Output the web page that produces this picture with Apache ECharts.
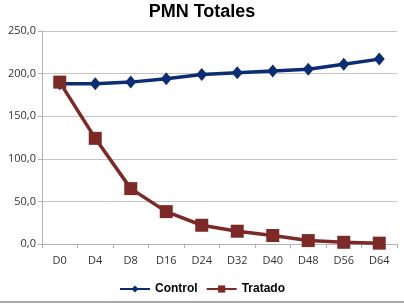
<!DOCTYPE html>
<html>
<head>
<meta charset="utf-8">
<script src="https://cdn.jsdelivr.net/npm/echarts@6/dist/echarts.min.js"></script>
<style>
  html, body { margin: 0; padding: 0; background: #fff; }
  #chart { width: 404px; height: 308px; }
</style>
</head>
<body>
<div id="chart"></div>
<script>
var days = ['D0', 'D4', 'D8', 'D16', 'D24', 'D32', 'D40', 'D48', 'D56', 'D64']
var control = [188, 188, 190, 194, 199, 201, 203, 205, 211, 217]
var tratado = [190, 124, 65, 38, 22, 15, 10, 4, 2, 1]

var chart = echarts.init(document.getElementById('chart'))
chart.setOption({
  animation: false,
  title: {
    text: 'PMN Totales',
    left: 'center',
    top: -2,
    textStyle: {
      fontFamily: 'Liberation Sans',
      fontWeight: 'bold',
      fontSize: 18,
      color: '#000'
    }
  },
  grid: {
    left: 42,
    right: 7,
    top: 31,
    bottom: 64
  },
  legend: {
    bottom: 8,
    left: 'center',
    itemWidth: 30,
    itemHeight: 9,
    itemGap: 8,
    textStyle: {
      fontFamily: 'Liberation Sans',
      fontWeight: 'bold',
      fontSize: 12,
      color: '#000'
    },
    data: ['Control', 'Tratado']
  },
  xAxis: {
    type: 'category',
    data: days,
    boundaryGap: true,
    axisLine: { lineStyle: { color: '#b0b0b0' } },
    axisTick: { show: true, length: 4, lineStyle: { color: '#b0b0b0' } },
    axisLabel: { color: '#333', fontFamily: 'Open Sans', fontSize: 11, margin: 11 }
  },
  yAxis: {
    type: 'value',
    min: 0,
    max: 250,
    interval: 50,
    axisLine: { show: true, lineStyle: { color: '#b0b0b0' } },
    axisTick: { show: true, length: 4, lineStyle: { color: '#b0b0b0' } },
    splitLine: { lineStyle: { color: '#c4c4c4' } },
    axisLabel: {
      color: '#333',
      fontFamily: 'Open Sans',
      fontSize: 11,
      margin: 6,
      formatter: function (v) { return v.toFixed(1).replace('.', ',') }
    }
  },
  graphic: [{
    type: 'line',
    shape: { x1: 0, y1: 302, x2: 404, y2: 302 },
    style: { stroke: '#8c8c8c', lineWidth: 1.5 }
  }],
  series: [{
    name: 'Control',
    type: 'line',
    data: control,
    symbol: 'diamond',
    symbolSize: [11, 13],
    lineStyle: { width: 3.5, color: '#0b2d73' },
    itemStyle: { color: '#0b2d73' }
  }, {
    name: 'Tratado',
    type: 'line',
    data: tratado,
    symbol: 'rect',
    symbolSize: 13,
    lineStyle: { width: 3.5, color: '#7b2a27' },
    itemStyle: { color: '#7b2a27' }
  }]
})
</script>
</body>
</html>
